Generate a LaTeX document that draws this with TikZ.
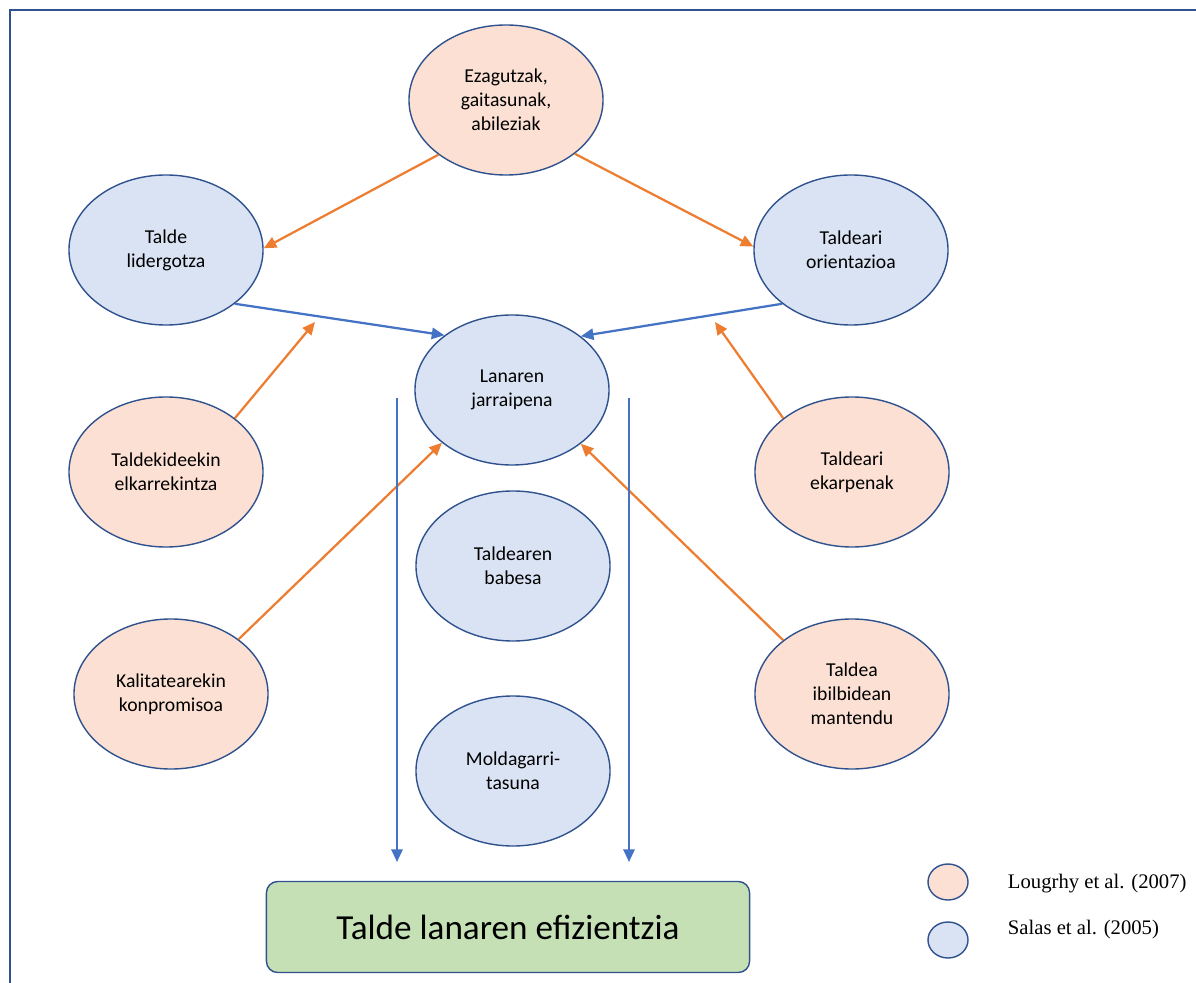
\documentclass[tikz,border=0pt]{standalone}
\usepackage{fontspec}
\setmainfont{Carlito}
\newfontfamily\legendfont{Liberation Serif}
\usetikzlibrary{shapes.geometric, arrows.meta}

\definecolor{peach}{HTML}{FBE0D3}
\definecolor{paleblue}{HTML}{DAE3F3}
\definecolor{palegreen}{HTML}{C5E0B4}
\definecolor{edgeblue}{HTML}{2F528F}
\definecolor{arroworange}{HTML}{ED7D31}
\definecolor{arrowblue}{HTML}{4472C4}

\begin{document}
\begin{tikzpicture}[x=0.025cm, y=-0.025cm,
	lougrhy/.style={ellipse, draw=edgeblue, line width=1pt, fill=peach, minimum width=4.85cm, minimum height=3.75cm, align=center, font=\fontsize{14}{17}\selectfont},
	salas/.style={lougrhy, fill=paleblue},
	orangearrow/.style={draw=arroworange, line width=1.6pt, -{Triangle[length=9pt, width=8pt]}},
	bluearrow/.style={draw=arrowblue, line width=1.6pt, -{Triangle[length=9pt, width=8pt]}}]
	\useasboundingbox (0,0) rectangle (1196,983);
	\draw[line width=1.8pt, color=edgeblue] (10,983) -- (10,10) -- (1196,10);

	\node[lougrhy] (know) at (506, 100) {Ezagutzak,\\gaitasunak,\\abileziak};
	\node[salas] (lead) at (166, 250) {Talde\\lidergotza};
	\node[salas] (orient) at (851, 250) {Taldeari\\orientazioa};
	\node[salas] (monitor) at (512, 390) {Lanaren\\jarraipena};
	\node[lougrhy] (interact) at (166, 472) {Taldekideekin\\elkarrekintza};
	\node[lougrhy] (contrib) at (852, 472) {Taldeari\\ekarpenak};
	\node[salas] (backup) at (513, 566) {Taldearen\\babesa};
	\node[lougrhy] (quality) at (171, 694) {Kalitatearekin\\konpromisoa};
	\node[lougrhy] (track) at (852, 694) {Taldea\\ibilbidean\\mantendu};
	\node[salas] (adapt) at (513, 771) {Moldagarri-\\tasuna};

	\node[draw=edgeblue, line width=1pt, fill=palegreen, rounded corners=8pt, minimum width=12.075cm, minimum height=2.275cm, font=\fontsize{25}{30}\selectfont] (eff) at (508, 927) {Talde lanaren efizientzia};

	\coordinate (leadin) at (315, 322);
	\coordinate (orientin) at (715, 322);
	\coordinate (top1) at (397, 398);
	\coordinate (bot1) at (397, 862);
	\coordinate (top2) at (629, 398);
	\coordinate (bot2) at (629, 862);

	% Draw the arrows between the ellipses
	\draw[orangearrow] (know.219) -- (lead.1);
	\draw[orangearrow] (know.322) -- (orient.178);
	\draw[bluearrow] (lead.322) -- (monitor.141);
	\draw[bluearrow] (orient.218) -- (monitor.38);
	\draw[orangearrow] (interact.38) -- (leadin);
	\draw[orangearrow] (contrib.142) -- (orientin);
	\draw[orangearrow] (quality.39) -- (monitor.217);
	\draw[orangearrow] (track.142) -- (monitor.322);
	\draw[bluearrow] (top1) -- (bot1);
	\draw[bluearrow] (top2) -- (bot2);

	% Legend
	\node[ellipse, draw=edgeblue, line width=1pt, fill=peach, minimum width=1cm, minimum height=0.9cm] (keyl) at (948, 882) {};
	\node[ellipse, draw=edgeblue, line width=1pt, fill=paleblue, minimum width=1cm, minimum height=0.9cm] (keys) at (948, 940) {};
	\node[anchor=west, font=\legendfont\fontsize{14.7}{17}\selectfont] (textl) at (1003, 884) {Lougrhy et al. (2007)};
	\node[anchor=west, font=\legendfont\fontsize{14.7}{17}\selectfont] (texts) at (1003, 930) {Salas et al. (2005)};
\end{tikzpicture}
\end{document}
